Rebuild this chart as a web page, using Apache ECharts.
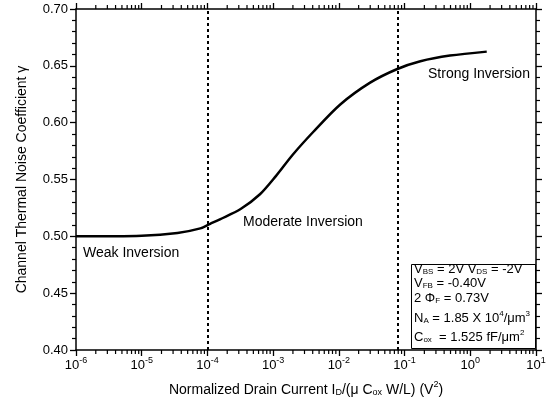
<!DOCTYPE html>
<html>
<head>
<meta charset="utf-8">
<script src="https://cdn.jsdelivr.net/npm/echarts@6/dist/echarts.min.js"></script>
<style>
html,body{margin:0;padding:0;background:#fff;}
#chart{width:551px;height:412px;}
</style>
</head>
<body>
<div id="chart"></div>
<script>
// Normalized drain current (V^2)
const currents = [1e-6, 1e-5, 3.5e-5, 7.8e-5, 1.1e-4, 1.55e-4, 3.2e-4, 6.3e-4, 1.1e-3, 2.0e-3, 4.1e-3, 1.05e-2, 2.95e-2, 7.6e-2, 0.174, 0.49, 1.78];
// Channel thermal noise coefficient gamma
const gammas = [0.500, 0.5006, 0.503, 0.507, 0.511, 0.515, 0.524, 0.537, 0.553, 0.572, 0.592, 0.616, 0.635, 0.647, 0.654, 0.659, 0.6625];
// Region boundaries (dashed lines)
const boundaries = [1e-4, 0.08];
// Axis tick exponents (decades) and y ticks
const decades = [-6, -5, -4, -3, -2, -1, 0, 1];
const yTicks = [0.40, 0.45, 0.50, 0.55, 0.60, 0.65, 0.70];

const minorX = [];
for (let i = 0; i < decades.length - 1; i++) {
  for (let k = 2; k <= 9; k++) minorX.push(decades[i] + Math.log10(k));
}

const chart = echarts.init(document.getElementById('chart'), null, {renderer: 'canvas'});
const FONT = 'Liberation Sans, Arial, Helvetica, sans-serif';
const black = '#000';
const yMin = yTicks[0], yMax = yTicks[yTicks.length - 1];

const axisLineStyle = {show: true, onZero: false, lineStyle: {color: black, width: 1.5}};

const xBase = {
  type: 'value', min: decades[0], max: decades[decades.length - 1], interval: 1,
  splitLine: {show: false}, gridIndex: 0
};

const option = {
  backgroundColor: '#fff',
  animation: false,
  textStyle: {fontFamily: FONT, color: black},
  grid: {left: 76, right: 15, top: 9, bottom: 62, containLabel: false},
  xAxis: [
    Object.assign({}, xBase, {
      position: 'bottom',
      axisLine: axisLineStyle,
      axisTick: {length: 6, lineStyle: {color: black, width: 1.3}},
      axisLabel: {
        margin: 6,
        color: black,
        fontFamily: FONT,
        formatter: v => '{b|10}{s|' + v + '}',
        rich: {
          b: {fontSize: 13, lineHeight: 16, verticalAlign: 'bottom', fontFamily: FONT, color: black},
          s: {fontSize: 9, lineHeight: 10, verticalAlign: 'top', fontFamily: FONT, color: black}
        }
      },
      name: '{n|Normalized Drain Current I}{sub|D}{n|/(μ C}{sub|ox}{n| W/L) (V}{sup|2}{n|)}',
      nameLocation: 'middle',
      nameGap: 30,
      nameTextStyle: {
        color: black,
        rich: {
          n: {fontSize: 14, lineHeight: 17, verticalAlign: 'bottom', fontFamily: FONT, color: black},
          sub: {fontSize: 9, lineHeight: 9, verticalAlign: 'bottom', fontFamily: FONT, color: black},
          sup: {fontSize: 9, lineHeight: 10, verticalAlign: 'top', fontFamily: FONT, color: black}
        }
      }
    }),
    Object.assign({}, xBase, {
      position: 'top',
      axisLine: axisLineStyle,
      axisTick: {length: 6, lineStyle: {color: black, width: 1.3}},
      axisLabel: {show: false}
    })
  ],
  yAxis: [
    {
      type: 'value', position: 'left', min: yMin, max: yMax, interval: 0.05,
      splitLine: {show: false},
      axisLine: {show: true, onZero: false, lineStyle: {color: black, width: 1.5}},
      axisTick: {show: true, length: 6, lineStyle: {color: black, width: 1.3}},
      minorTick: {show: true, splitNumber: 5, length: 4, lineStyle: {color: black, width: 1.2}},
      axisLabel: {color: black, fontSize: 13, fontFamily: FONT, margin: 8, formatter: v => v.toFixed(2)},
      name: 'Channel Thermal Noise Coefficient γ',
      nameLocation: 'middle',
      nameGap: 47,
      nameTextStyle: {fontSize: 14, color: black, fontFamily: FONT}
    },
    {
      type: 'value', position: 'right', min: yMin, max: yMax, interval: 0.05,
      splitLine: {show: false},
      axisLine: {show: true, onZero: false, lineStyle: {color: black, width: 1.5}},
      axisTick: {show: true, length: 6, lineStyle: {color: black, width: 1.3}},
      minorTick: {show: true, splitNumber: 5, length: 4, lineStyle: {color: black, width: 1.2}},
      axisLabel: {show: false}
    }
  ],
  series: [
    {
      type: 'custom',
      xAxisIndex: 0,
      yAxisIndex: 0,
      silent: true,
      clip: false,
      data: minorX.map(v => [v, yMin]),
      encode: {x: 0, y: 1},
      renderItem: (params, api) => {
        const v = api.value(0);
        const pb = api.coord([v, yMin]);
        const pt = api.coord([v, yMax]);
        const st = {stroke: black, lineWidth: 1.2, fill: null};
        return {
          type: 'group',
          children: [
            {type: 'line', shape: {x1: pb[0], y1: pb[1], x2: pb[0], y2: pb[1] + 4}, style: st},
            {type: 'line', shape: {x1: pt[0], y1: pt[1], x2: pt[0], y2: pt[1] - 4}, style: st}
          ]
        };
      }
    },
    {
      type: 'line',
      xAxisIndex: 0,
      yAxisIndex: 0,
      data: currents.map((c, i) => [Math.log10(c), gammas[i]]),
      smooth: 0.3,
      showSymbol: false,
      lineStyle: {color: black, width: 2.5},
      markLine: {
        silent: true,
        symbol: ['none', 'none'],
        label: {show: false},
        lineStyle: {color: black, type: [3, 3], width: 2},
        data: boundaries.map(b => ({xAxis: Math.log10(b)}))
      }
    }
  ],
  graphic: [
    {type: 'text', left: 83, top: 246, style: {text: 'Weak Inversion', font: '14px ' + FONT, fill: black}},
    {type: 'text', left: 243, top: 215, style: {text: 'Moderate Inversion', font: '14px ' + FONT, fill: black}},
    {type: 'text', left: 428, top: 67, style: {text: 'Strong Inversion', font: '14px ' + FONT, fill: black}},
    {type: 'rect', left: 411, top: 264, shape: {width: 124, height: 84}, style: {fill: '#fff', stroke: black, lineWidth: 1}},
    {type: 'text', left: 414, top: 263, style: {
      text: '{n|V}{s|BS}{n| = 2V V}{s|DS}{n| = -2V}',
      rich: {
        n: {font: '13px ' + FONT, fill: black, lineHeight: 16, verticalAlign: 'bottom'},
        s: {font: '8px ' + FONT, fill: black, lineHeight: 9, verticalAlign: 'bottom'}
      }}},
    {type: 'text', left: 414, top: 277, style: {
      text: '{n|V}{s|FB}{n| = -0.40V}',
      rich: {
        n: {font: '13px ' + FONT, fill: black, lineHeight: 16, verticalAlign: 'bottom'},
        s: {font: '8px ' + FONT, fill: black, lineHeight: 9, verticalAlign: 'bottom'}
      }}},
    {type: 'text', left: 414, top: 292, style: {
      text: '{n|2 Φ}{s|F}{n| = 0.73V}',
      rich: {
        n: {font: '13px ' + FONT, fill: black, lineHeight: 16, verticalAlign: 'bottom'},
        s: {font: '8px ' + FONT, fill: black, lineHeight: 9, verticalAlign: 'bottom'}
      }}},
    {type: 'text', left: 414, top: 310, style: {
      text: '{n|N}{s|A}{n| = 1.85 X 10}{p|4}{n|/μm}{p|3}',
      rich: {
        n: {font: '13px ' + FONT, fill: black, lineHeight: 15, verticalAlign: 'bottom'},
        s: {font: '8px ' + FONT, fill: black, lineHeight: 9, verticalAlign: 'bottom'},
        p: {font: '8px ' + FONT, fill: black, lineHeight: 9, verticalAlign: 'top'}
      }}},
    {type: 'text', left: 414, top: 329, style: {
      text: '{n|C}{s|ox}{n|  = 1.525 fF/μm}{p|2}',
      rich: {
        n: {font: '13px ' + FONT, fill: black, lineHeight: 15, verticalAlign: 'bottom'},
        s: {font: '8px ' + FONT, fill: black, lineHeight: 9, verticalAlign: 'bottom'},
        p: {font: '8px ' + FONT, fill: black, lineHeight: 9, verticalAlign: 'top'}
      }}}
  ]
};
chart.setOption(option);
</script>
</body>
</html>
